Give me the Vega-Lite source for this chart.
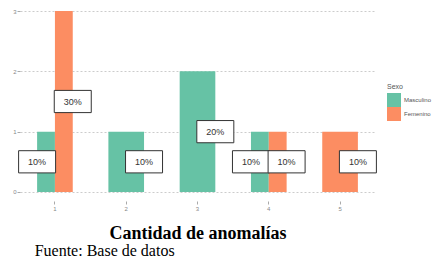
{
  "$schema": "https://vega.github.io/schema/vega-lite/v6.json",
  "width": 355,
  "height": 199,
  "autosize": {"type": "none"},
  "padding": {"left": 20, "top": 2, "right": 64, "bottom": 58},
  "background": "white",
  "config": {"view": {"stroke": null}, "font": "Liberation Sans"},
  "title": {
    "text": "Fuente: Base de datos",
    "orient": "bottom",
    "anchor": "start",
    "dx": 22,
    "offset": 1,
    "font": "Liberation Serif",
    "fontSize": 16,
    "fontWeight": "normal",
    "color": "black"
  },
  "data": {
    "values": [
      {"Cantidad": "1", "Sexo": "Masculino", "n": 1, "pct": "10%"},
      {"Cantidad": "1", "Sexo": "Femenino", "n": 3, "pct": "30%"},
      {"Cantidad": "2", "Sexo": "Masculino", "n": 1, "pct": "10%"},
      {"Cantidad": "3", "Sexo": "Masculino", "n": 2, "pct": "20%"},
      {"Cantidad": "4", "Sexo": "Masculino", "n": 1, "pct": "10%"},
      {"Cantidad": "4", "Sexo": "Femenino", "n": 1, "pct": "10%"},
      {"Cantidad": "5", "Sexo": "Femenino", "n": 1, "pct": "10%"}
    ]
  },
  "transform": [
    {"joinaggregate": [{"op": "count", "as": "grupos"}], "groupby": ["Cantidad"]}
  ],
  "encoding": {
    "x": {
      "field": "Cantidad",
      "type": "ordinal",
      "scale": {"paddingInner": 0.5, "paddingOuter": 0.24},
      "axis": {
        "title": "Cantidad de anomalías",
        "titleFont": "Liberation Serif",
        "titleFontSize": 18,
        "titleFontWeight": "bold",
        "titleColor": "black",
        "titlePadding": 13,
        "labelAngle": 0,
        "labelFontSize": 6,
        "labelColor": "#888888",
        "labelPadding": 1,
        "tickSize": 3,
        "tickColor": "#aaaaaa",
        "domain": false,
        "grid": false
      }
    }
  },
  "resolve": {"scale": {"y": "independent"}},
  "layer": [
    {
      "encoding": {
        "y": {
          "field": "n",
          "type": "quantitative",
          "scale": {"domain": [-0.15, 3.15], "nice": false, "zero": false},
          "axis": {
            "title": null,
            "values": [0, 1, 2, 3],
            "format": "d",
            "labelFontSize": 6,
            "labelColor": "#888888",
            "labelPadding": 1,
            "tickSize": 3,
            "tickColor": "#aaaaaa",
            "domain": false,
            "grid": true,
            "gridColor": "#cccccc",
            "gridDash": [2, 2],
            "gridWidth": 1
          }
        },
        "y2": {"datum": 0}
      },
      "layer": [
        {
          "transform": [{"filter": "datum.grupos == 2"}],
          "mark": {"type": "bar"},
          "encoding": {
            "xOffset": {"field": "Sexo", "type": "nominal", "scale": {"domain": ["Masculino", "Femenino"], "paddingInner": 0, "paddingOuter": 0}},
            "color": {
              "field": "Sexo",
              "type": "nominal",
              "scale": {"domain": ["Masculino", "Femenino"], "range": ["#66C2A5", "#FC8D62"]},
              "legend": {
                "title": "Sexo",
                "orient": "none",
                "legendX": 367,
                "legendY": 81,
                "titleFontSize": 7,
                "titleFontWeight": "normal",
                "titleColor": "#555555",
                "titlePadding": 3,
                "labelFontSize": 6,
                "labelColor": "#555555",
                "labelOffset": 3,
                "symbolType": "square",
                "symbolSize": 196,
                "symbolStrokeWidth": 0,
                "rowPadding": 0
              }
            }
          }
        },
        {
          "transform": [{"filter": "datum.grupos == 1"}],
          "mark": {"type": "bar"},
          "encoding": {
            "color": {"field": "Sexo", "type": "nominal"}
          }
        }
      ]
    },
    {
      "encoding": {
        "y": {
          "field": "n",
          "type": "quantitative",
          "scale": {"domain": [-0.3, 6.3], "nice": false, "zero": false},
          "axis": null
        }
      },
      "layer": [
        {
          "transform": [{"filter": "datum.grupos == 2 && datum.Sexo == 'Masculino'"}],
          "encoding": {
            "x": {"field": "Cantidad", "type": "ordinal", "bandPosition": 0}
          },
          "layer": [
            {"mark": {"type": "point", "shape": "M-1,-0.6L1,-0.6L1,0.6L-1,0.6Z", "size": 1369, "filled": true, "fill": "white", "stroke": "#333333", "strokeWidth": 1, "opacity": 1}},
            {"mark": {"type": "text", "fontSize": 9, "color": "#333333", "font": "Liberation Sans"}, "encoding": {"text": {"field": "pct"}}}
          ]
        },
        {
          "transform": [{"filter": "!(datum.grupos == 2 && datum.Sexo == 'Masculino')"}],
          "encoding": {
            "x": {"field": "Cantidad", "type": "ordinal", "bandPosition": 1}
          },
          "layer": [
            {"mark": {"type": "point", "shape": "M-1,-0.6L1,-0.6L1,0.6L-1,0.6Z", "size": 1369, "filled": true, "fill": "white", "stroke": "#333333", "strokeWidth": 1, "opacity": 1}},
            {"mark": {"type": "text", "fontSize": 9, "color": "#333333", "font": "Liberation Sans"}, "encoding": {"text": {"field": "pct"}}}
          ]
        }
      ]
    }
  ]
}
